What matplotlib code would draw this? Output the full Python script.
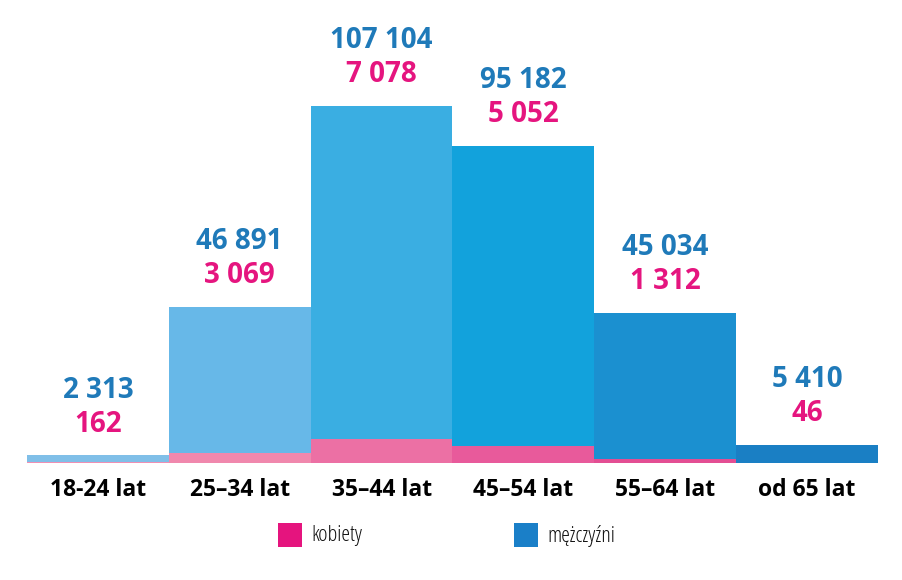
import matplotlib
matplotlib.use("Agg")
import matplotlib.pyplot as plt
from matplotlib.patches import Rectangle

# data
groups = ["18-24 lat", "25–34 lat", "35–44 lat", "45–54 lat", "55–64 lat", "od 65 lat"]
men = [2313, 46891, 107104, 95182, 45034, 5410]
women = [162, 3069, 7078, 5052, 1312, 46]

blue_shades = ["#80bfe8", "#67b8e8", "#3aaee2", "#12a2dc", "#1b90d0", "#1a7fc4"]
pink_shades = ["#f08fb3", "#f088ad", "#ec70a4", "#e85a9b", "#e34e93", "#e0468d"]
blue_txt = "#1f7ab9"
pink_txt = "#e5157f"


def fmt(v):
    return "{:,}".format(v).replace(",", " ")


fig = plt.figure(figsize=(9.02, 5.8), dpi=100)
ax = fig.add_axes([27 / 902, 117 / 580, 851 / 902, 463 / 580])

x = list(range(len(groups)))
ax.bar(x, men, width=1.0, color=blue_shades, linewidth=0)
ax.bar(x, women, width=1.0, color=pink_shades, linewidth=0)

for i in x:
    ax.annotate(fmt(women[i]), (i, men[i]), xytext=(0, 31), textcoords="offset pixels",
                ha="center", va="center", color=pink_txt, fontsize=20,
                fontweight="bold", family="Open Sans")
    ax.annotate(fmt(men[i]), (i, men[i]), xytext=(0, 65), textcoords="offset pixels",
                ha="center", va="center", color=blue_txt, fontsize=20,
                fontweight="bold", family="Open Sans")

ax.set_xlim(-0.5, 5.5)
ax.set_ylim(0, 138900)
ax.set_xticks(x)
ax.set_xticklabels(groups, fontsize=16.5, fontweight="bold", family="Open Sans")
ax.tick_params(axis="x", length=0, pad=11)
ax.set_yticks([])
for s in ax.spines.values():
    s.set_visible(False)
ax.patch.set_alpha(0)

# legend
W, H = 902, 580
leg = [("kobiety", "#e5147e", 278), ("mężczyźni", "#1a7fc8", 514)]
for name, col, px in leg:
    fig.patches.append(Rectangle((px / W, (H - 547) / H), 24 / W, 24 / H,
                                 transform=fig.transFigure, color=col, linewidth=0))
    fig.text((px + 33) / W, (H - 536) / H, name, ha="left", va="center",
             fontsize=16, family="Open Sans", fontstretch="condensed", color="#111111")

fig.savefig("out.png", dpi=100)
